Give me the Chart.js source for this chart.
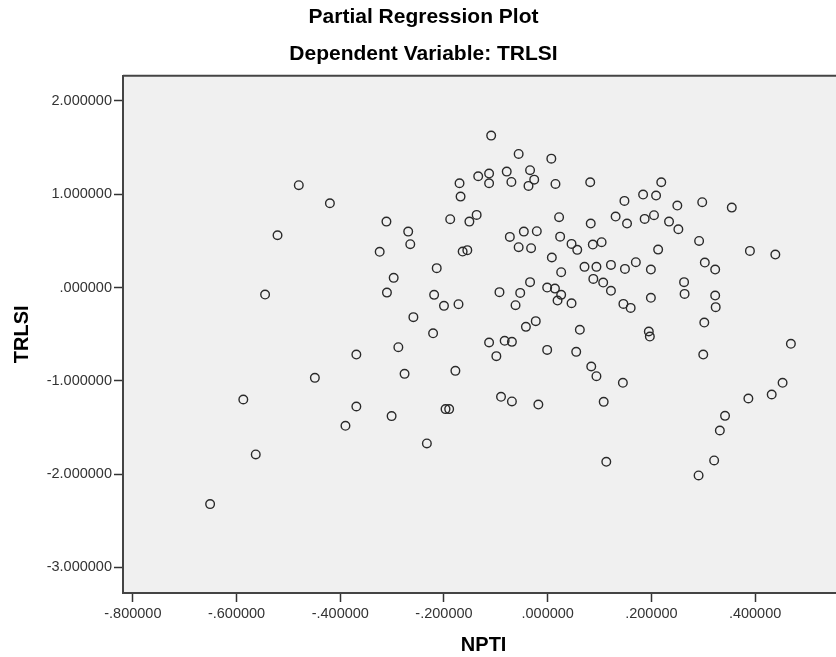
<!DOCTYPE html>
<html>
<head>
<meta charset="utf-8">
<title>Partial Regression Plot</title>
<script src="https://cdn.jsdelivr.net/npm/chart.js@4/dist/chart.umd.min.js"></script>
<style>
  html, body { margin: 0; padding: 0; background: #fff; overflow: hidden; }
  canvas { display: block; }
</style>
</head>
<body>
<canvas id="chart" width="850" height="657"></canvas>
<script>
// values (NPTI on x, TRLSI on y)
const nptiValues = [
  -0.480, -0.420, -0.521, -0.545, -0.369, -0.449, -0.587, -0.369, -0.390, -0.563, -0.651,
  -0.109, -0.056, 0.007, -0.034, -0.079, -0.113, -0.134, -0.026, -0.170, -0.113,
  -0.070, -0.037, 0.015, 0.082, -0.168, -0.311, -0.269, -0.265, -0.324, -0.188,
  -0.137, -0.151, -0.164, -0.155, 0.022, -0.073, -0.046, -0.021, 0.024, -0.056,
  -0.032, 0.046, 0.057, 0.008, 0.071, -0.214, -0.297, -0.310, -0.219, -0.200,
  -0.172, -0.259, -0.221, -0.034, -0.093, -0.053, -0.001, 0.014, 0.026, 0.019,
  0.046, -0.062, -0.023, -0.042, 0.062, 0.026,
  0.219, 0.184, 0.209, 0.148, 0.250, 0.298, 0.355, 0.083, 0.131, 0.153,
  0.187, 0.205, 0.234, 0.252, 0.087, 0.104, 0.213, 0.292, 0.390, 0.439,
  0.094, 0.122, 0.149, 0.170, 0.199, 0.303, 0.323, 0.088, 0.107, 0.122,
  0.146, 0.160, 0.199, 0.263, 0.264, 0.323, 0.324, 0.302, 0.195, 0.197,
  0.469, 0.055, 0.300, 0.084, 0.094, 0.145, 0.453, 0.432, 0.387, 0.108,
  0.342, 0.332, 0.113, 0.321, 0.291,
  -0.288, -0.113, -0.083, -0.069, -0.099, -0.001, -0.276, -0.178, -0.301, -0.197,
  -0.190, -0.090, -0.069, -0.018, -0.233
];
const trlsiValues = [
  1.097, 0.904, 0.561, -0.075, -0.718, -0.968, -1.200, -1.275, -1.482, -1.789, -2.321,
  1.629, 1.432, 1.382, 1.258, 1.243, 1.222, 1.193, 1.157, 1.118, 1.118,
  1.132, 1.090, 1.111, 1.129, 0.975, 0.707, 0.600, 0.465, 0.383, 0.733,
  0.779, 0.707, 0.386, 0.401, 0.754, 0.543, 0.600, 0.604, 0.546, 0.433,
  0.422, 0.468, 0.404, 0.322, 0.222, 0.208, 0.104, -0.054, -0.078, -0.196,
  -0.178, -0.317, -0.490, 0.058, -0.049, -0.057, 0.000, -0.011, -0.078, -0.139,
  -0.168, -0.189, -0.360, -0.421, -0.453, 0.165,
  1.129, 0.997, 0.986, 0.929, 0.879, 0.915, 0.857, 0.686, 0.761, 0.686,
  0.736, 0.776, 0.707, 0.625, 0.461, 0.486, 0.407, 0.500, 0.393, 0.354,
  0.222, 0.243, 0.200, 0.272, 0.193, 0.268, 0.193, 0.093, 0.054, -0.035,
  -0.175, -0.218, -0.110, 0.058, -0.068, -0.086, -0.210, -0.375, -0.471, -0.525,
  -0.603, -0.689, -0.718, -0.846, -0.950, -1.021, -1.021, -1.146, -1.189, -1.225,
  -1.375, -1.532, -1.868, -1.853, -2.014,
  -0.639, -0.589, -0.571, -0.582, -0.735, -0.668, -0.925, -0.893, -1.378, -1.303,
  -1.303, -1.171, -1.221, -1.254, -1.671
];

// tick positions on each axis
const nptiTicks = [-0.8, -0.6, -0.4, -0.2, 0, 0.2, 0.4];
const trlsiTicks = [-3, -2, -1, 0, 1, 2];

const FONT = "'Liberation Sans', Arial, sans-serif";

// SPSS style number labels: 6 decimals, no leading zero
function spssFormat(v) {
  return Number(v).toFixed(6).replace(/^(-?)0\./, '$1.');
}

const points = nptiValues.map((x, i) => ({ x: x, y: trlsiValues[i] }));

// grey plot background plus the top / right frame lines
const plotFrame = {
  id: 'plotFrame',
  beforeDraw(chart) {
    const { ctx, chartArea: a } = chart;
    ctx.save();
    ctx.fillStyle = '#f0f0f0';
    ctx.fillRect(a.left, a.top, a.right - a.left, a.bottom - a.top);
    ctx.restore();
  },
  beforeDatasetsDraw(chart) {
    const { ctx, chartArea: a } = chart;
    ctx.save();
    ctx.strokeStyle = '#444';
    ctx.lineWidth = 2;
    ctx.beginPath();
    ctx.moveTo(a.left, a.top);
    ctx.lineTo(a.right, a.top);
    ctx.lineTo(a.right, a.bottom);
    ctx.stroke();
    ctx.restore();
  }
};

const ctx = document.getElementById('chart').getContext('2d');
new Chart(ctx, {
  type: 'scatter',
  data: {
    datasets: [{
      label: 'TRLSI',
      data: points,
      pointStyle: 'circle',
      pointRadius: 4.3,
      pointBorderWidth: 1.4,
      pointBorderColor: '#2a2a2a',
      pointBackgroundColor: 'rgba(0,0,0,0)',
      showLine: false
    }]
  },
  options: {
    responsive: false,
    animation: false,
    events: [],
    layout: { padding: { left: 0, right: 3, top: 0, bottom: 0 } },
    plugins: {
      legend: { display: false },
      tooltip: { enabled: false },
      title: {
        display: true,
        text: 'Partial Regression Plot',
        color: '#000',
        font: { family: FONT, size: 21, weight: 'bold' },
        padding: { top: 4.4, bottom: 5 }
      },
      subtitle: {
        display: true,
        text: 'Dependent Variable: TRLSI',
        color: '#000',
        font: { family: FONT, size: 21, weight: 'bold' },
        padding: { top: 6.8, bottom: 9.1 }
      }
    },
    scales: {
      x: {
        type: 'linear',
        min: -0.819,
        max: 0.572,
        afterFit(scale) { scale.height = 64; },
        afterBuildTicks(scale) { scale.ticks = nptiTicks.map(v => ({ value: v })); },
        ticks: {
          callback: spssFormat,
          autoSkip: false,
          maxRotation: 0,
          color: '#333',
          padding: 3,
          font: { family: FONT, size: 14.5 }
        },
        grid: { drawOnChartArea: false, tickLength: 9, tickColor: '#333', tickWidth: 1.5 },
        border: { color: '#444', width: 2 },
        title: {
          display: true,
          text: 'NPTI',
          color: '#000',
          font: { family: FONT, size: 20, weight: 'bold' },
          padding: { top: 0, bottom: 0 }
        }
      },
      y: {
        type: 'linear',
        min: -3.274,
        max: 2.271,
        afterFit(scale) { scale.width = 123; },
        afterBuildTicks(scale) { scale.ticks = trlsiTicks.map(v => ({ value: v })); },
        ticks: {
          callback: spssFormat,
          autoSkip: false,
          color: '#333',
          padding: 2,
          font: { family: FONT, size: 14.5 }
        },
        grid: { drawOnChartArea: false, tickLength: 9, tickColor: '#333', tickWidth: 1.5 },
        border: { color: '#444', width: 2 },
        title: {
          display: true,
          text: 'TRLSI',
          color: '#000',
          font: { family: FONT, size: 20, weight: 'bold' },
          padding: { top: 10.5, bottom: 0 }
        }
      }
    }
  },
  plugins: [plotFrame]
});
</script>
</body>
</html>
